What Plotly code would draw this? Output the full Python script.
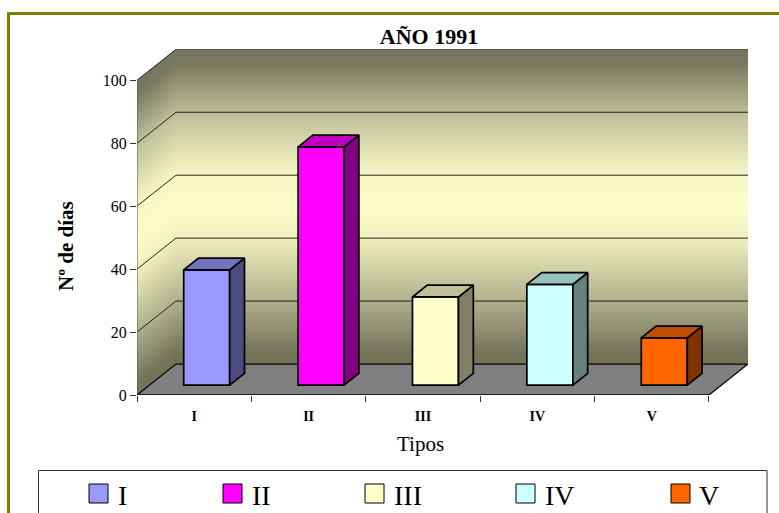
import plotly.graph_objects as go

# --- data ---
categories = ["I", "II", "III", "IV", "V"]
values = [36.6, 75.7, 28, 32, 15]
y_ticks = [0, 20, 40, 60, 80, 100]
face_colors = ["#9999FF", "#FF00FF", "#FFFFCC", "#CCFFFF", "#FF6600"]
side_colors = ["#4C4C80", "#800080", "#808066", "#668080", "#803300"]
top_colors = ["#7373BF", "#BF00BF", "#BFBF99", "#99BFBF", "#BF4C00"]
title_text = "AÑO 1991"
x_title = "Tipos"
y_title = "Nº de días"

# --- style / layout ---
W, H = 779, 513
FONT = "Liberation Serif"
DX, DY = 0.341, 9.84          # full depth of the box in axis units
D0, D1 = 0.32, 0.70           # bar front and back, as fraction of depth
BAR_W = 0.402
wall_stops = [(100, (118, 118, 92)), (96, (120, 120, 95)), (80, (190, 190, 153)),
              (60, (248, 248, 198)), (50, (253, 253, 203)), (40, (240, 240, 190)),
              (20, (175, 175, 140)), (4, (116, 116, 91)), (0, (114, 114, 89))]
legend_swatch_x = [89, 223, 365, 516, 671]
legend_text_x = [116, 250, 392, 543, 697]


def wall_color(v):
    for (v1, c1), (v2, c2) in zip(wall_stops, wall_stops[1:]):
        if v2 <= v <= v1:
            t = (v1 - v) / (v1 - v2)
            return "rgb(%d,%d,%d)" % tuple(round(a + (b - a) * t) for a, b in zip(c1, c2))
    return "rgb(114,114,89)"


def poly(pts):
    return "M" + " L".join(f"{x},{y}" for x, y in pts) + " Z"


n = len(categories)
shapes = []
# walls: painted top to bottom, each strip reaching the floor
for k in range(0, 201):
    v = 100 - k * 0.5
    c = wall_color(v)
    shapes.append(dict(type="path", layer="below", line=dict(width=0), fillcolor=c,
                       path=poly([(DX, DY + v), (n + DX, DY + v), (n + DX, DY), (DX, DY)])))
    shapes.append(dict(type="path", layer="below", line=dict(width=0), fillcolor=c,
                       path=poly([(0, v), (DX, DY + v), (DX, DY), (0, 0)])))
# floor
shapes.append(dict(type="path", layer="below", fillcolor="#808080", line=dict(color="#000", width=1.2),
                   path=poly([(0, 0), (n, 0), (n + DX, DY), (DX, DY)])))
# gridlines
for v in y_ticks[1:]:
    shapes.append(dict(type="path", layer="below", line=dict(color="#222", width=1),
                       path=f"M0,{v} L{DX},{v + DY} L{n + DX},{v + DY}"))
# axis lines
shapes.append(dict(type="line", layer="below", x0=0, x1=0, y0=0, y1=100, line=dict(color="#555", width=1)))
shapes.append(dict(type="line", layer="above", x0=0, x1=n, y0=0, y1=0, line=dict(color="#111", width=1.5)))
# outer frame
shapes.append(dict(type="path", xref="paper", yref="paper", line=dict(color="#808000", width=3),
                   path=f"M{8.5 / W},{-0.1} L{8.5 / W},{1 - 13.5 / H} L1.1,{1 - 13.5 / H}"))
# legend box
shapes.append(dict(type="rect", xref="paper", yref="paper", x0=38.5 / W, x1=767 / W, y0=-0.1, y1=1 - 470.5 / H,
                   line=dict(color="#333", width=1)))

annotations = [
    dict(text=x_title, xref="paper", yref="paper", x=420 / W, y=1 - 444 / H, showarrow=False,
         xanchor="center", yanchor="middle", font=dict(family=FONT, size=21, color="#000")),
    dict(text=f"<b>{y_title}</b>", xref="paper", yref="paper", x=66 / W, y=1 - 246 / H, showarrow=False,
         xanchor="center", yanchor="middle", textangle=-90, font=dict(family=FONT, size=21, color="#000")),
]
for i, cat in enumerate(categories):
    x0 = legend_swatch_x[i]
    shapes.append(dict(type="rect", xref="paper", yref="paper", x0=x0 / W, x1=(x0 + 19) / W,
                       y0=1 - 503 / H, y1=1 - 484 / H, fillcolor=face_colors[i],
                       line=dict(color="#000", width=1)))
    annotations.append(dict(text=cat, xref="paper", yref="paper", x=legend_text_x[i] / W, y=1 - 495 / H,
                            xanchor="left", yanchor="middle", showarrow=False,
                            font=dict(family=FONT, size=28, color="#000")))

fig = go.Figure()
centers = [i + 0.5 + D0 * DX for i in range(n)]
fig.add_trace(go.Bar(x=centers, y=values, base=D0 * DY, width=BAR_W, name="Serie",
                     marker=dict(color=face_colors, line=dict(color="#000", width=1.7)),
                     showlegend=False, hoverinfo="skip"))
ddx, ddy = (D1 - D0) * DX, (D1 - D0) * DY
for i, val in enumerate(values):
    left = centers[i] - BAR_W / 2
    right = centers[i] + BAR_W / 2
    base = D0 * DY
    top = base + val
    fig.add_trace(go.Scatter(x=[right, right + ddx, right + ddx, right, right],
                             y=[base, base + ddy, top + ddy, top, base], mode="lines", fill="toself",
                             fillcolor=side_colors[i], line=dict(color="#000", width=1.7),
                             showlegend=False, hoverinfo="skip"))
    fig.add_trace(go.Scatter(x=[left, left + ddx, right + ddx, right, left],
                             y=[top, top + ddy, top + ddy, top, top], mode="lines", fill="toself",
                             fillcolor=top_colors[i], line=dict(color="#000", width=1.7),
                             showlegend=False, hoverinfo="skip"))

fig.update_layout(
    width=W, height=H, autosize=False, margin=dict(l=0, r=0, t=0, b=0),
    paper_bgcolor="#fff", plot_bgcolor="rgba(0,0,0,0)", showlegend=False,
    shapes=shapes, annotations=annotations,
    title=dict(text=f"<b>{title_text}</b>", x=429 / W, xref="paper", xanchor="center",
               y=1 - 36.5 / H, yref="container", yanchor="middle",
               font=dict(family=FONT, size=22, color="#000")),
    xaxis=dict(domain=[137 / W, 748 / W], range=[0, n + DX], showgrid=False, zeroline=False, automargin=False,
               tickmode="array", tickvals=[i + 0.5 for i in range(n)], ticktext=[f"<b>{c}</b>" for c in categories],
               ticks="", ticklen=0, ticklabelstandoff=11, tickfont=dict(family=FONT, size=14, color="#000"),
               minor=dict(tickmode="array", tickvals=list(range(n + 1)), ticks="outside", ticklen=6,
                          tickcolor="#333", tickwidth=1, showgrid=False)),
    yaxis=dict(domain=[1 - 395 / H, 1 - 49.3 / H], range=[0, 100 + DY], showgrid=False, zeroline=False, automargin=False,
               tickmode="array", tickvals=y_ticks, ticks="outside", ticklen=6, tickcolor="#333",
               tickwidth=1, tickfont=dict(family=FONT, size=16, color="#000")),
)
fig.write_html("out.html", config=dict(displayModeBar=False),
               post_script="document.body.style.margin='0';document.body.style.overflow='hidden';")
